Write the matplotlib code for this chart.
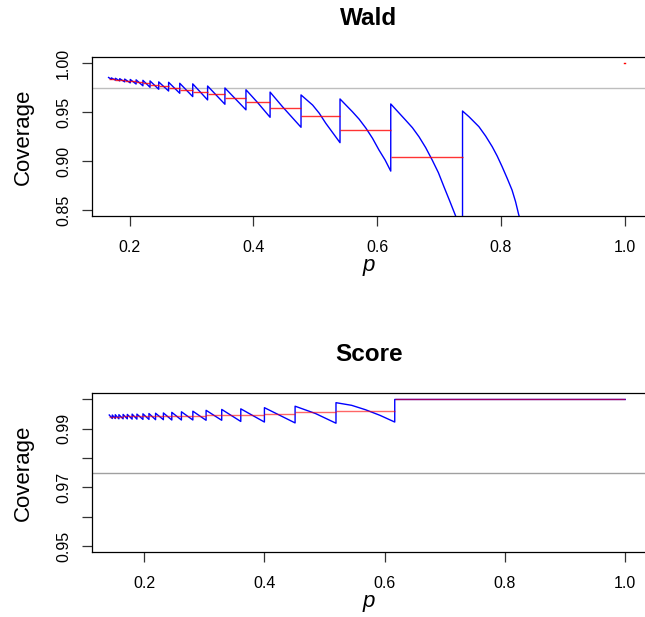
import matplotlib
matplotlib.use("Agg")
import matplotlib.pyplot as plt

plt.rcParams['font.family'] = ['Liberation Sans', 'DejaVu Sans']

# ---------------- Wald data ----------------
wald_jump_p = [0.166, 0.1705, 0.177, 0.184, 0.192, 0.201, 0.2105, 0.2215, 0.233,
               0.247, 0.263, 0.281, 0.302, 0.326, 0.354, 0.388, 0.427, 0.477,
               0.540, 0.622, 0.738]
wald_end_p = wald_jump_p[1:] + [0.845]
wald_top = [0.9855, 0.9851, 0.9847, 0.9843, 0.9839, 0.9835, 0.9831, 0.9826, 0.9820,
            0.9810, 0.9806, 0.9796, 0.9790, 0.9768, 0.9748, 0.9730, 0.9706, 0.9677,
            0.9636, 0.9585, 0.9513]
wald_bottom = [0.9836, 0.9828, 0.9820, 0.9810, 0.9800, 0.9788, 0.9770, 0.9755, 0.9735,
               0.9717, 0.9694, 0.9660, 0.9626, 0.9582, 0.9525, 0.9449, 0.9347, 0.9190,
               0.8900, 0.8260, 0.8200]
# interior points of the curved pieces (segment index -> list of (p, coverage))
wald_inner = {
    15: [(0.407, 0.9598)],
    16: [(0.447, 0.9557)],
    17: [(0.4957, 0.9574), (0.5065, 0.9490), (0.517, 0.9388)],
    18: [(0.5495, 0.9574), (0.560, 0.9506), (0.571, 0.9429), (0.582, 0.9337),
         (0.5925, 0.9235), (0.603, 0.9115), (0.6129, 0.9013)],
    19: [(0.646, 0.942), (0.657, 0.9343), (0.6677, 0.925), (0.6785, 0.9139),
         (0.689, 0.9013), (0.699, 0.8884), (0.708, 0.874), (0.7173, 0.8595),
         (0.727, 0.844)],
    20: [(0.7484, 0.9455), (0.7645, 0.9353), (0.7753, 0.9258), (0.786, 0.9149),
         (0.794, 0.9054), (0.802, 0.8945), (0.8102, 0.8826), (0.818, 0.8707),
         (0.8237, 0.8588), (0.829, 0.845)],
}
wald_red = [0.9843, 0.9838, 0.9834, 0.9829, 0.9823, 0.9816, 0.9807, 0.9795, 0.9782,
            0.9765, 0.9748, 0.9728, 0.9710, 0.9687, 0.9650, 0.9605, 0.9544, 0.9460,
            0.9320, 0.9040, 0.7500]
wald_red_end = wald_jump_p[1:] + [1.0]

# ---------------- Score data ----------------
score_jump_p = [0.142, 0.147, 0.152, 0.158, 0.165, 0.172, 0.180, 0.188, 0.198, 0.208,
                0.219, 0.232, 0.246, 0.262, 0.281, 0.303, 0.329, 0.3607, 0.400, 0.451,
                0.519, 0.6167]
score_end_p = score_jump_p[1:] + [1.0]
score_top = [0.9947, 0.9947, 0.9948, 0.9948, 0.9949, 0.9949, 0.9950, 0.9950, 0.9951,
             0.9952, 0.9953, 0.9954, 0.9956, 0.9958, 0.9960, 0.9963, 0.9966, 0.9968,
             0.9972, 0.9977, 0.9989, 1.0000]
score_bottom = [0.9935, 0.9935, 0.9934, 0.9934, 0.9934, 0.9933, 0.9933, 0.9932, 0.9932,
                0.9931, 0.9931, 0.9930, 0.9930, 0.9930, 0.9929, 0.9929, 0.9925, 0.9923,
                0.9920, 0.9919, 0.9923, 1.0000]
score_inner = {
    19: [(0.485, 0.9952)],
    20: [(0.545, 0.9980), (0.568, 0.9965), (0.592, 0.9946)],
}
score_red = [0.9941, 0.9941, 0.9941, 0.9941, 0.9942, 0.9942, 0.9942, 0.9942, 0.9943,
             0.9943, 0.9943, 0.9944, 0.9944, 0.9945, 0.9945, 0.9946, 0.9946, 0.9948,
             0.9951, 0.9957, 0.9962, 1.0000]

nominal = 0.975
xticks = [0.2, 0.4, 0.6, 0.8, 1.0]


def blue_path(jp, ep, top, bot, inner):
    xs, ys = [], []
    for i in range(len(jp)):
        xs.append(jp[i]); ys.append(top[i])
        for (a, b) in inner.get(i, []):
            xs.append(a); ys.append(b)
        xs.append(ep[i]); ys.append(bot[i])
    return xs, ys


W, H = 645, 617
fig = plt.figure(figsize=(W / 100, H / 100), dpi=100)

def px_axes(left, top, right, bottom):
    return fig.add_axes([left / W, 1 - bottom / H, (right - left) / W, (bottom - top) / H])

ax1 = px_axes(92, 57, 646, 216)
ax2 = px_axes(92, 393, 646, 552)

def style(ax, title, xlim, ylim, yticks, ylabels):
    ax.set_xlim(*xlim)
    ax.set_ylim(*ylim)
    ax.set_xticks(xticks)
    ax.set_xticklabels([f"{t:.1f}" for t in xticks])
    ax.set_yticks(yticks)
    ax.set_yticklabels(ylabels, rotation=90, va='center')
    ax.tick_params(axis='both', direction='out', length=7, width=0.9,
                   labelsize=11.5, color='#333333')
    ax.tick_params(axis='x', pad=10.5)
    ax.tick_params(axis='y', pad=8)
    for s in ax.spines.values():
        s.set_linewidth(0.9)
    ax.set_ylabel("Coverage", fontsize=16)
    ax.yaxis.set_label_coords(-0.105, 0.5)
    ax.set_xlabel("p", fontsize=16, style='italic')
    ax.xaxis.set_label_coords(0.5, -0.245)
    ax.text(0.5, 1.245, title, transform=ax.transAxes, ha='center', va='center',
            fontsize=17.5, fontweight='bold')

# ---- Wald ----
xs, ys = blue_path(wald_jump_p, wald_end_p, wald_top, wald_bottom, wald_inner)
ax1.axhline(nominal, color='#bebebe', lw=1.0, zorder=1)
ax1.plot(xs, ys, color='#0000ff', lw=1.0, zorder=2)
ax1.hlines(wald_red, wald_jump_p, wald_red_end, color='#ff0000', lw=1.0, alpha=0.8, zorder=3)
ax1.plot([0.9995, 1.0], [1.0, 1.0], color='#ff0000', lw=1.0, zorder=3)
style(ax1, "Wald", (0.1392, 1.0345), (0.8442, 1.0064),
      [0.85, 0.90, 0.95, 1.00], ["0.85", "0.90", "0.95", "1.00"])

# ---- Score ----
xs, ys = blue_path(score_jump_p, score_end_p, score_top, score_bottom, score_inner)
ax2.axhline(nominal, color='#a0a0a0', lw=1.0, zorder=1)
ax2.plot(xs, ys, color='#0000ff', lw=1.0, zorder=2)
ax2.hlines(score_red, score_jump_p, score_end_p, color='#ff0000', lw=1.0, alpha=0.6, zorder=3)
style(ax2, "Score", (0.1133, 1.0345), (0.948, 1.0022),
      [0.95, 0.96, 0.97, 0.98, 0.99, 1.00], ["0.95", "", "0.97", "", "0.99", ""])

fig.savefig("out.png", dpi=100)
